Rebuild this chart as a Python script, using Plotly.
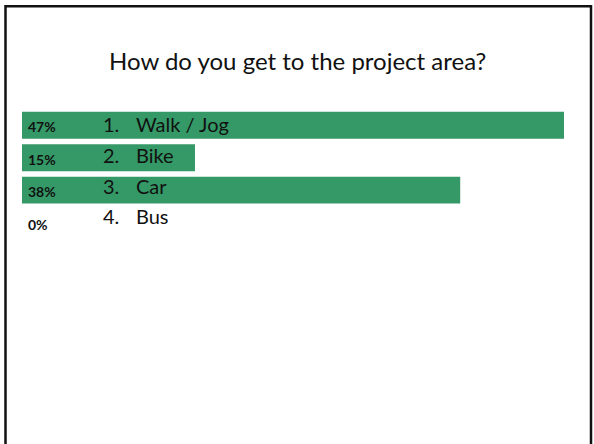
import plotly.graph_objects as go

categories = ["Walk / Jog", "Bike", "Car", "Bus"]
numbers = ["1.", "2.", "3.", "4."]
percents = [47, 15, 38, 0]
title_text = "How do you get to the project area?"

W, H = 594, 444
ML, MR = 22, 30
MT = 108.75
PH = 134.0
MB = H - MT - PH
PW = W - ML - MR

def px_x(p):
    return (p - ML) / PW

def px_y(p):
    return 1 + (MT - p) / PH

GREEN = "#349966"
FONT = "Lato, 'Open Sans', sans-serif"
LABEL_DRIFT = 1.8  # item labels sit on a slightly tighter pitch than the bars

fig = go.Figure()
fig.add_trace(go.Bar(
    x=percents, y=categories, orientation="h",
    marker=dict(color=GREEN, line=dict(width=0)),
    hoverinfo="skip", showlegend=False,
))

for i, (cat, num, pct) in enumerate(zip(categories, numbers, percents)):
    shift = 1 + i * LABEL_DRIFT
    fig.add_annotation(x=px_x(26), xref="paper", y=cat, yref="y",
                       text=f"<b>{pct}%</b>", showarrow=False,
                       xanchor="left", yanchor="middle", yshift=-1.5,
                       font=dict(family=FONT, size=14, color="#111111"))
    fig.add_annotation(x=px_x(101), xref="paper", y=cat, yref="y",
                       text=num, showarrow=False,
                       xanchor="left", yanchor="middle", yshift=shift,
                       font=dict(family=FONT, size=20, color="#111111"))
    fig.add_annotation(x=px_x(134), xref="paper", y=cat, yref="y",
                       text=cat, showarrow=False,
                       xanchor="left", yanchor="middle", yshift=shift,
                       font=dict(family=FONT, size=20, color="#111111"))

fig.add_annotation(x=px_x(297), xref="paper", y=px_y(60), yref="paper",
                   text=title_text, showarrow=False,
                   xanchor="center", yanchor="middle",
                   font=dict(family=FONT, size=24, color="#111111"))

# slide border (top, left, right; bottom is cut off)
fig.add_shape(type="path", xref="paper", yref="paper",
              path=f"M {px_x(5.5)},{px_y(470)} L {px_x(5.5)},{px_y(6)} L {px_x(591)},{px_y(6)} L {px_x(591)},{px_y(470)}",
              line=dict(color="#111111", width=2.5), layer="above")

fig.update_layout(
    width=W, height=H,
    margin=dict(l=ML, r=MR, t=MT, b=MB, pad=0),
    paper_bgcolor="white", plot_bgcolor="white",
    bargap=0.17,
    xaxis=dict(range=[0, max(percents)], visible=False, fixedrange=True),
    yaxis=dict(autorange="reversed", visible=False, fixedrange=True),
    showlegend=False,
)

fig.write_html("out.html", config={"displayModeBar": False},
               post_script="document.body.style.margin='0';")
